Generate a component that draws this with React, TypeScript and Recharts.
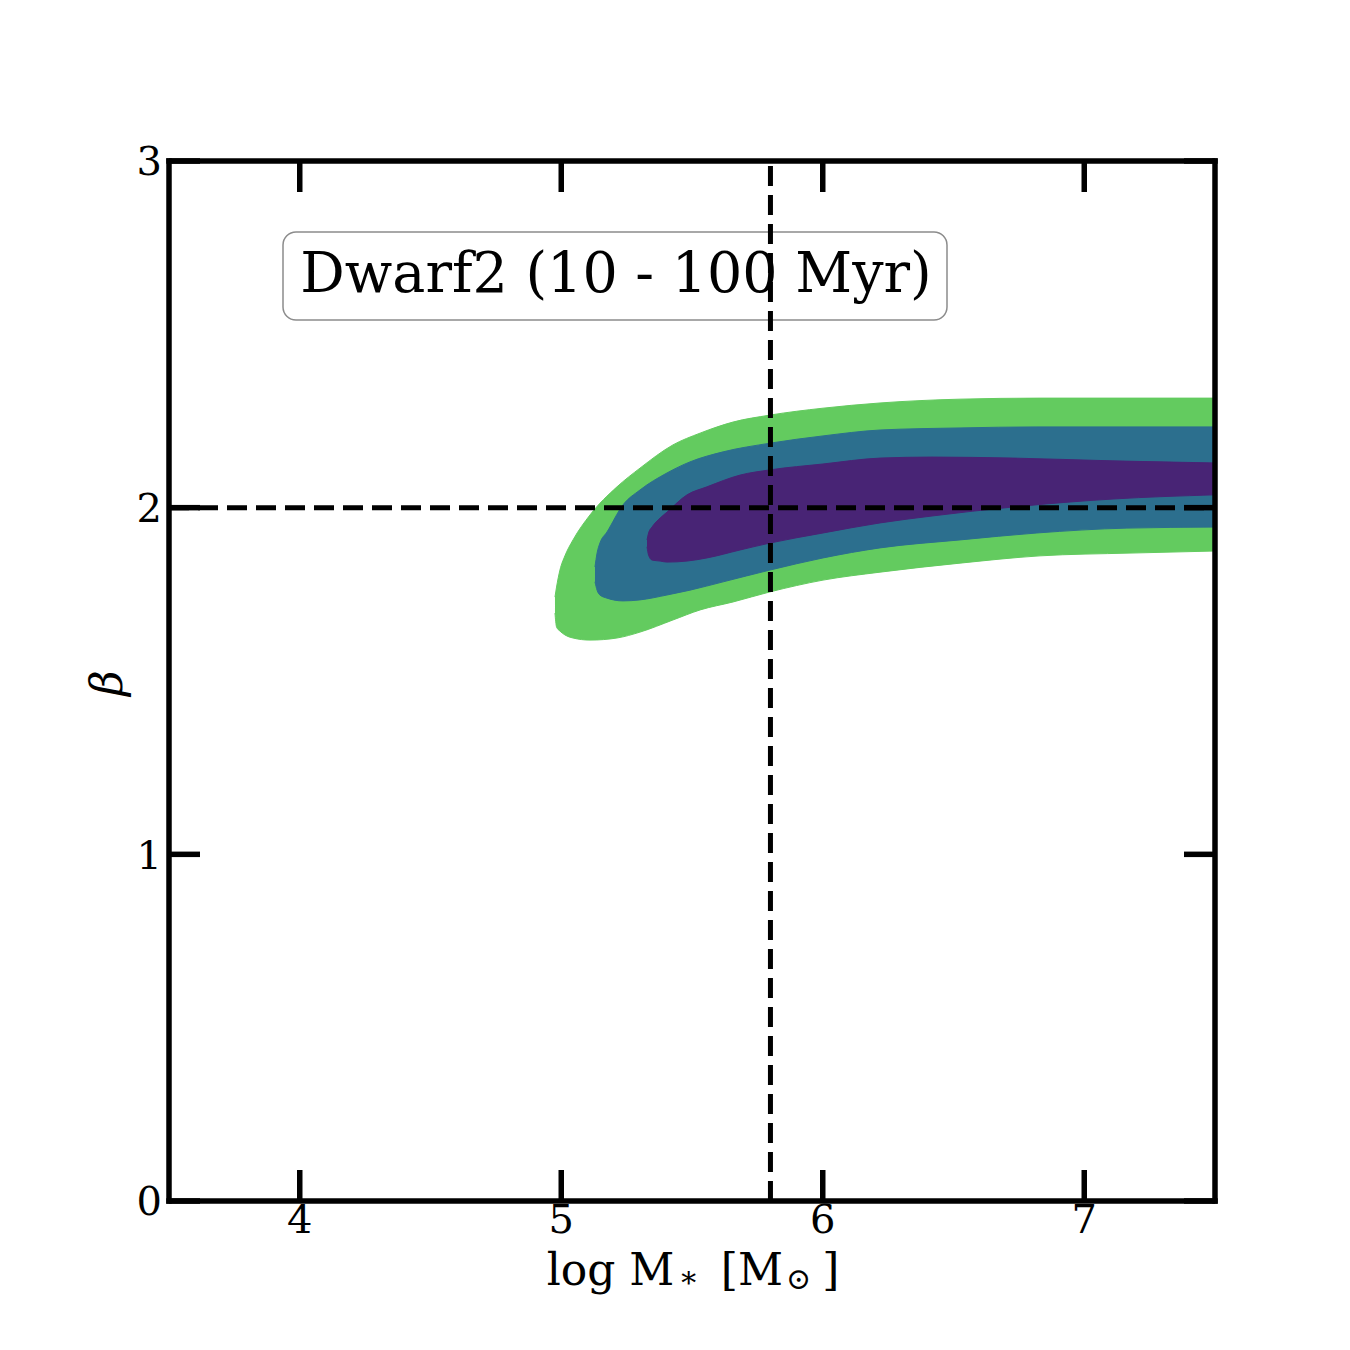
import { Area, ComposedChart, ReferenceLine, XAxis, YAxis } from "recharts"

const FONT = "'DejaVu Serif', serif"

// contour bands: outer (green), middle (blue), inner (purple)
const greenX = [4.976, 4.982, 4.995, 5.014, 5.045, 5.11, 5.213, 5.301, 5.427, 5.531, 5.657, 5.798, 6.001, 6.219, 6.525, 6.831, 7.175, 7.5]
const greenLo = [1.696, 1.656, 1.644, 1.633, 1.624, 1.618, 1.624, 1.641, 1.676, 1.705, 1.728, 1.757, 1.791, 1.814, 1.84, 1.861, 1.869, 1.875]
const greenHi = [1.742, 1.771, 1.82, 1.861, 1.907, 1.979, 2.06, 2.114, 2.181, 2.215, 2.247, 2.267, 2.287, 2.302, 2.313, 2.316, 2.316, 2.316]

const blueX = [5.129, 5.137, 5.148, 5.175, 5.236, 5.301, 5.404, 5.492, 5.619, 5.798, 6.001, 6.219, 6.525, 6.819, 7.163, 7.5]
const blueLo = [1.786, 1.762, 1.748, 1.739, 1.731, 1.734, 1.748, 1.762, 1.786, 1.82, 1.855, 1.884, 1.907, 1.927, 1.941, 1.944]
const blueHi = [1.829, 1.869, 1.898, 1.93, 2.008, 2.051, 2.1, 2.132, 2.161, 2.186, 2.207, 2.224, 2.23, 2.233, 2.233, 2.233]

const purpleX = [5.328, 5.334, 5.347, 5.378, 5.404, 5.481, 5.557, 5.684, 5.798, 6.001, 6.219, 6.418, 6.728, 7.11, 7.5]
const purpleLo = [1.887, 1.863, 1.849, 1.846, 1.843, 1.846, 1.855, 1.878, 1.898, 1.927, 1.956, 1.976, 2.002, 2.025, 2.037]
const purpleHi = [1.907, 1.927, 1.944, 1.97, 1.987, 2.037, 2.06, 2.094, 2.109, 2.126, 2.143, 2.146, 2.143, 2.135, 2.129]

const xTicks = [4, 5, 6, 7]
const yTicks = [0, 1, 2, 3]
const refMass = 5.8
const refBeta = 2

const band = (xs: number[], lo: number[], hi: number[]) =>
  xs.map((x, i) => ({ x, v: [lo[i], hi[i]] }))

const bands = [
  { name: "green", data: band(greenX, greenLo, greenHi), color: "#63cb5f" },
  { name: "blue", data: band(blueX, blueLo, blueHi), color: "#2c6f8e" },
  { name: "purple", data: band(purpleX, purpleLo, purpleHi), color: "#482475" },
]

const axisLine = { stroke: "#000", strokeWidth: 5.5, strokeLinecap: "square" as const }
const tickLine = { stroke: "#000", strokeWidth: 5.5 }
const tickFont = { fill: "#000", fontSize: 40, fontFamily: FONT }
const blank = () => ""

function XLabel(props: any) {
  const vb = props.viewBox ?? { x: 169, y: 1201, width: 1046 }
  const cx = vb.x + vb.width / 2
  return (
    <text x={cx + 1} y={vb.y + 84} textAnchor="middle" fontFamily={FONT} fontSize={44} fill="#000">
      <tspan>log M</tspan>
      <tspan fontSize={30} dx={4} dy={2}>∗</tspan>
      <tspan dx={22} dy={-2}>[M</tspan>
      <tspan fontSize={30} dx={3} dy={4}>⊙</tspan>
      <tspan dx={11} dy={-4}>]</tspan>
    </text>
  )
}

function YLabel(props: any) {
  const vb = props.viewBox ?? { x: 109, y: 161, height: 1040 }
  const cy = vb.y + vb.height / 2 + 2
  return (
    <text
      x={0}
      y={0}
      transform={`translate(122, ${cy}) rotate(-90)`}
      textAnchor="middle"
      fontFamily={FONT}
      fontStyle="italic"
      fontSize={44}
      fill="#000"
    >
      β
    </text>
  )
}

export default function App() {
  return (
    <div style={{ position: "absolute", left: 0, top: 0, width: 1350, height: 1350, background: "#fff" }}>
      <svg width={1350} height={1350} style={{ position: "absolute", left: 0, top: 0 }}>
        <rect x={283} y={232} width={664} height={88} rx={13} fill="#fff" stroke="#8c8c8c" strokeWidth={1.5} />
        <text x={616} y={292} textAnchor="middle" fontFamily={FONT} fontSize={55.5} fill="#000">
          Dwarf2 (10 - 100 Myr)
        </text>
      </svg>
      <div style={{ position: "absolute", left: 0, top: 0 }}>
        <ComposedChart width={1350} height={1350} margin={{ top: 131, right: 105, bottom: 119, left: 109 }}>
          <XAxis
            xAxisId="b"
            dataKey="x"
            type="number"
            domain={[3.5, 7.5]}
            ticks={xTicks}
            allowDataOverflow
            height={30}
            axisLine={axisLine}
            tickLine={tickLine}
            tickSize={-31}
            tickMargin={35}
            tick={tickFont}
            label={{ content: (p: any) => <XLabel {...p} /> }}
          />
          <XAxis
            xAxisId="t"
            orientation="top"
            dataKey="x"
            type="number"
            domain={[3.5, 7.5]}
            ticks={xTicks}
            allowDataOverflow
            height={30}
            axisLine={axisLine}
            tickLine={tickLine}
            tickSize={-31}
            tickFormatter={blank}
          />
          <YAxis
            yAxisId="l"
            type="number"
            domain={[0, 3]}
            ticks={yTicks}
            allowDataOverflow
            width={60}
            axisLine={axisLine}
            tickLine={tickLine}
            tickSize={-31}
            tickMargin={38}
            tick={tickFont}
            label={{ content: (p: any) => <YLabel {...p} /> }}
          />
          <YAxis
            yAxisId="r"
            orientation="right"
            type="number"
            domain={[0, 3]}
            ticks={yTicks}
            allowDataOverflow
            width={30}
            axisLine={axisLine}
            tickLine={tickLine}
            tickSize={-31}
            tickFormatter={blank}
          />
          {bands.map((b) => (
            <Area
              key={b.name}
              xAxisId="b"
              yAxisId="l"
              data={b.data}
              dataKey="v"
              type="monotone"
              fill={b.color}
              fillOpacity={1}
              stroke={b.color}
              strokeWidth={1}
              dot={false}
              activeDot={false}
              isAnimationActive={false}
            />
          ))}
          <ReferenceLine xAxisId="b" yAxisId="l" x={refMass} stroke="#000" strokeWidth={5} strokeDasharray="20 9" />
          <ReferenceLine xAxisId="b" yAxisId="l" y={refBeta} stroke="#000" strokeWidth={5} strokeDasharray="20 9" />
        </ComposedChart>
      </div>
    </div>
  )
}
